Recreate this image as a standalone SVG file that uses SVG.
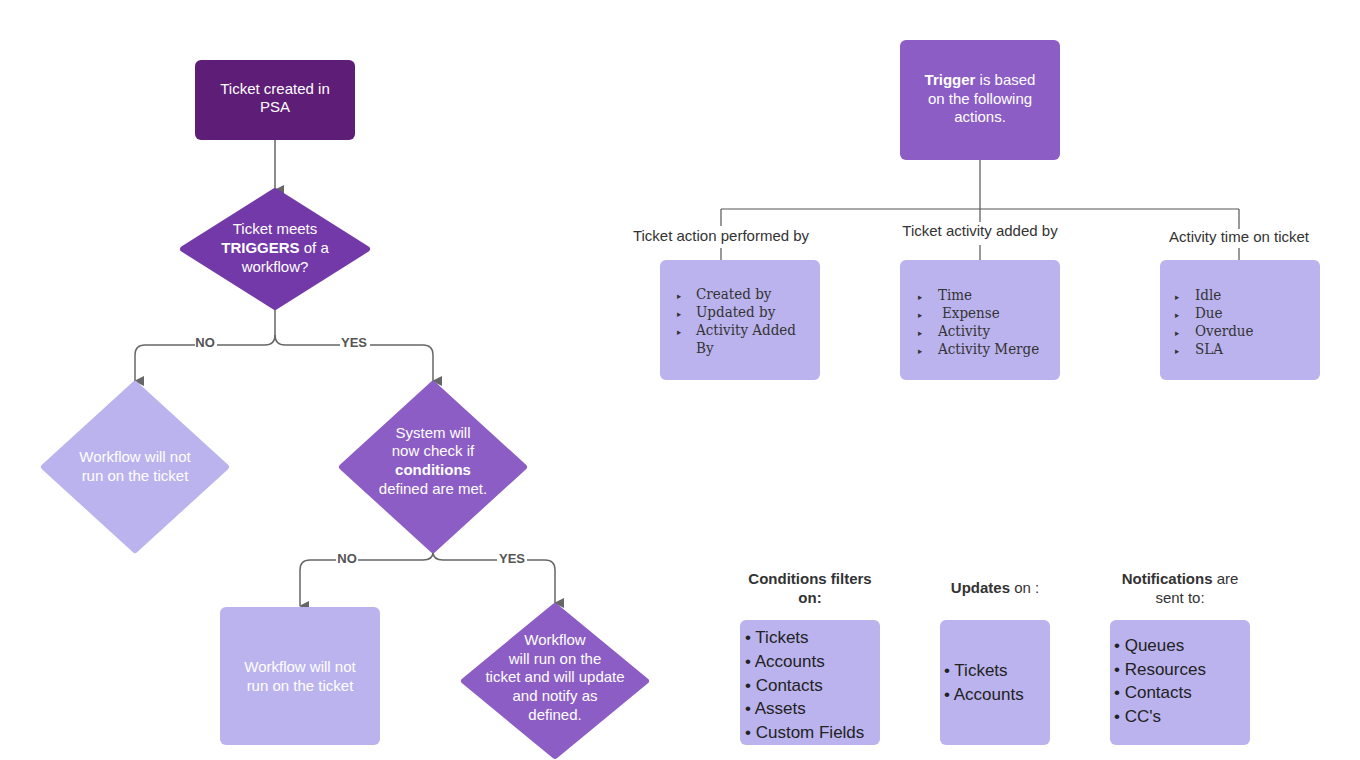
<svg xmlns="http://www.w3.org/2000/svg" width="1360" height="760" viewBox="0 0 1360 760">
<style>
.w{font-family:"Liberation Sans",Arial,sans-serif;font-size:15px;fill:#fff;text-anchor:middle}
.d{font-family:"Liberation Sans",Arial,sans-serif;font-size:15px;fill:#333;text-anchor:middle}
.l{font-family:"Liberation Sans",Arial,sans-serif;font-size:13px;font-weight:bold;fill:#555;text-anchor:middle}
.s{font-family:"DejaVu Serif",serif;font-size:15px;fill:#333;font-stretch:condensed}
.b{font-family:"Liberation Sans",Arial,sans-serif;font-size:17px;fill:#222}
.c{fill:none;stroke:#666;stroke-width:1.5}
.t{fill:none;stroke:#555;stroke-width:1.2}
</style>
<defs><marker id="a" markerWidth="10" markerHeight="10" refX="5" refY="9" orient="auto" markerUnits="userSpaceOnUse" viewBox="0 0 10 10"><path d="M0,0 L10,0 L5,10Z" fill="#666"/></marker></defs>
<rect width="1360" height="760" fill="#fff"/>
<g id="connectors">
<path class="c" d="M275,140 V190" marker-end="url(#a)"/>
<path class="c" d="M275,307 V335 Q275,345 265,345 H145 Q135,345 135,355 V381" marker-end="url(#a)"/>
<path class="c" d="M275,335 Q275,345 285,345 H423 Q433,345 433,355 V381" marker-end="url(#a)"/>
<path class="c" d="M433,552 Q433,560 423,560 H310 Q300,560 300,570 V606" marker-end="url(#a)"/>
<path class="c" d="M433,552 Q433,560 443,560 H545 Q555,560 555,570 V603" marker-end="url(#a)"/>
<rect x="195" y="336" width="22" height="14" fill="#fff"/><text class="l" x="205" y="347">NO</text>
<rect x="340" y="336" width="30" height="14" fill="#fff"/><text class="l" x="354" y="347">YES</text>
<rect x="336" y="551" width="22" height="14" fill="#fff"/><text class="l" x="347" y="563">NO</text>
<rect x="497" y="551" width="30" height="14" fill="#fff"/><text class="l" x="512" y="563">YES</text>
<path class="t" d="M980,160 V209 M721,209 H1239 M721,209 V226 M980,209 V222 M1239,209 V229 M721,248 V260 M980,245 V260 M1239,248 V260"/>
<text class="d" x="721" y="241">Ticket action performed by</text>
<text class="d" x="980" y="236">Ticket activity added by</text>
<text class="d" x="1239" y="242">Activity time on ticket</text>
</g>
<g id="n1"><rect x="195" y="60" width="160" height="80" rx="6" fill="#5e1e78"/><text class="w" x="275" y="94">Ticket created in</text><text class="w" x="275" y="112">PSA</text></g>
<g id="n2"><path d="M275,191 L367,249 L275,307 L183,249Z" fill="#7339a8" stroke="#7339a8" stroke-width="6" stroke-linejoin="round"/><text class="w" x="275" y="234">Ticket meets</text><text class="w" x="275" y="253"><tspan font-weight="bold">TRIGGERS</tspan> of a</text><text class="w" x="275" y="272">workflow?</text></g>
<g id="n3"><path d="M135,384 L226,467 L135,550 L44,467Z" fill="#bbb3ee" stroke="#bbb3ee" stroke-width="6" stroke-linejoin="round"/><text class="w" x="135" y="462">Workflow will not</text><text class="w" x="135" y="481">run on the ticket</text></g>
<g id="n4"><path d="M433,384 L524,467 L433,550 L342,467Z" fill="#8b5dc5" stroke="#8b5dc5" stroke-width="6" stroke-linejoin="round"/><text class="w" x="433" y="438">System will</text><text class="w" x="433" y="456">now check if</text><text class="w" x="433" y="475" font-weight="bold">conditions</text><text class="w" x="433" y="494">defined are met.</text></g>
<g id="n5"><rect x="220" y="607" width="160" height="138" rx="6" fill="#bbb3ee"/><text class="w" x="300" y="672">Workflow will not</text><text class="w" x="300" y="691">run on the ticket</text></g>
<g id="n6"><path d="M555,606 L646,681 L555,756 L464,681Z" fill="#8b5dc5" stroke="#8b5dc5" stroke-width="6" stroke-linejoin="round"/><text class="w" x="555" y="645">Workflow</text><text class="w" x="555" y="664">will run on the</text><text class="w" x="555" y="682">ticket and will update</text><text class="w" x="555" y="701">and notify as</text><text class="w" x="555" y="720">defined.</text></g>
<g id="n7"><rect x="900" y="40" width="160" height="120" rx="6" fill="#8b5dc5"/><text class="w" x="980" y="85"><tspan font-weight="bold">Trigger</tspan> is based</text><text class="w" x="980" y="104">on the following</text><text class="w" x="980" y="122">actions.</text></g>
<g id="n8"><rect x="660" y="260" width="160" height="120" rx="6" fill="#bbb3ee"/>
<text class="s" x="677" y="299"><tspan font-size="9">▸</tspan><tspan x="696">Created by</tspan></text>
<text class="s" x="677" y="317"><tspan font-size="9">▸</tspan><tspan x="696">Updated by</tspan></text>
<text class="s" x="677" y="335"><tspan font-size="9">▸</tspan><tspan x="696">Activity Added</tspan></text>
<text class="s" x="696" y="353">By</text></g>
<g id="n9"><rect x="900" y="260" width="160" height="120" rx="6" fill="#bbb3ee"/>
<text class="s" x="918" y="300"><tspan font-size="9">▸</tspan><tspan x="938">Time</tspan></text>
<text class="s" x="918" y="318"><tspan font-size="9">▸</tspan><tspan x="942">Expense</tspan></text>
<text class="s" x="918" y="336"><tspan font-size="9">▸</tspan><tspan x="938">Activity</tspan></text>
<text class="s" x="918" y="354"><tspan font-size="9">▸</tspan><tspan x="938">Activity Merge</tspan></text></g>
<g id="n10"><rect x="1160" y="260" width="160" height="120" rx="6" fill="#bbb3ee"/>
<text class="s" x="1175" y="300"><tspan font-size="9">▸</tspan><tspan x="1195">Idle</tspan></text>
<text class="s" x="1175" y="318"><tspan font-size="9">▸</tspan><tspan x="1195">Due</tspan></text>
<text class="s" x="1175" y="336"><tspan font-size="9">▸</tspan><tspan x="1195">Overdue</tspan></text>
<text class="s" x="1175" y="354"><tspan font-size="9">▸</tspan><tspan x="1195">SLA</tspan></text></g>
<g id="n11"><text class="d" x="810" y="584" font-weight="bold" fill="#222">Conditions filters</text><text class="d" x="810" y="603" font-weight="bold" fill="#222">on:</text>
<rect x="740" y="620" width="140" height="125" rx="6" fill="#bbb3ee"/>
<text class="b" x="745" y="643">• Tickets</text><text class="b" x="745" y="667">• Accounts</text><text class="b" x="745" y="691">• Contacts</text><text class="b" x="745" y="714">• Assets</text><text class="b" x="745" y="738">• Custom Fields</text></g>
<g id="n12"><text class="d" x="995" y="593" fill="#222"><tspan font-weight="bold">Updates</tspan> on :</text>
<rect x="940" y="620" width="110" height="125" rx="6" fill="#bbb3ee"/>
<text class="b" x="944" y="676">• Tickets</text><text class="b" x="944" y="700">• Accounts</text></g>
<g id="n13"><text class="d" x="1180" y="584" fill="#222"><tspan font-weight="bold">Notifications</tspan> are</text><text class="d" x="1180" y="603" fill="#222">sent to:</text>
<rect x="1110" y="620" width="140" height="125" rx="6" fill="#bbb3ee"/>
<text class="b" x="1114" y="651">• Queues</text><text class="b" x="1114" y="675">• Resources</text><text class="b" x="1114" y="698">• Contacts</text><text class="b" x="1114" y="722">• CC's</text></g>
</svg>
